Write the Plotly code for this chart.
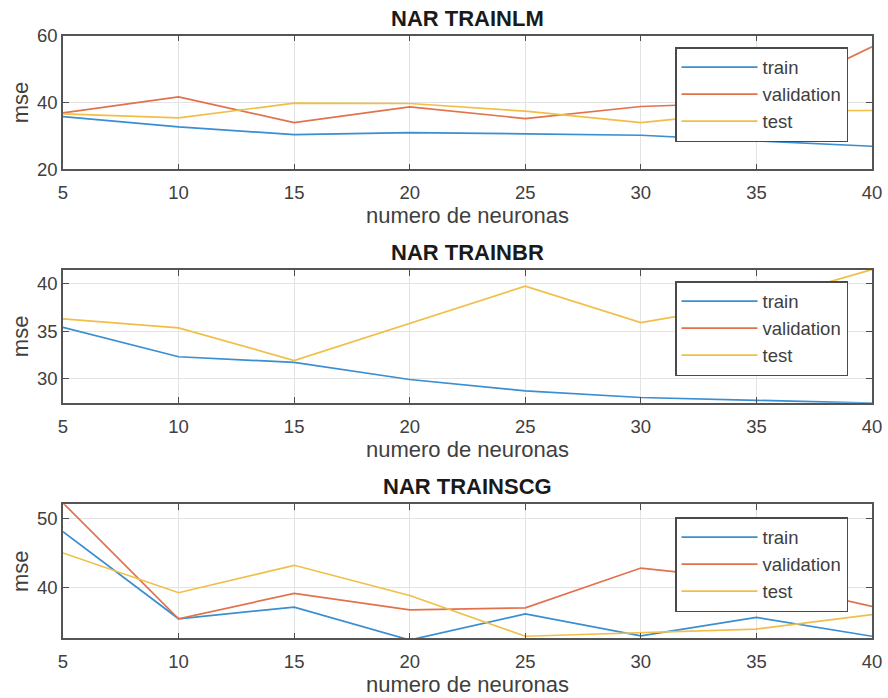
import plotly.graph_objects as go

neurons = [5, 10, 15, 20, 25, 30, 35, 40]

lm_train = [35.8, 32.7, 30.4, 31.0, 30.6, 30.2, 28.5, 26.9]
lm_validation = [36.9, 41.7, 34.0, 38.7, 35.2, 38.8, 40.0, 56.7]
lm_test = [36.6, 35.4, 39.8, 39.7, 37.4, 34.0, 37.5, 37.6]

br_train = [35.4, 32.3, 31.7, 29.9, 28.7, 28.0, 27.7, 27.4]
br_validation = [None, None, None, None, None, None, None, None]
br_test = [36.3, 35.35, 31.9, 35.8, 39.75, 35.9, 38.0, 41.5]

scg_train = [48.1, 35.4, 37.1, 32.3, 36.1, 32.9, 35.6, 32.85]
scg_validation = [52.3, 35.4, 39.1, 36.7, 37.0, 42.8, 41.0, 37.2]
scg_test = [45.0, 39.2, 43.2, 38.8, 32.85, 33.4, 33.9, 36.0]

titles = ["NAR TRAINLM", "NAR TRAINBR", "NAR TRAINSCG"]
series_names = ["train", "validation", "test"]
colors = ["#3a8ed2", "#e2724c", "#f0bf48"]

panels = [
    (lm_train, lm_validation, lm_test),
    (br_train, br_validation, br_test),
    (scg_train, scg_validation, scg_test),
]
y_ranges = [[20, 60], [27.45, 41.45], [32.55, 52.1]]
y_ticks = [[20, 40, 60], [30, 35, 40], [40, 50]]

W, H = 888, 698
# plot area pixel boxes (top, bottom)
boxes = [(35.7, 169.3), (270.0, 402.7), (504.3, 638.3)]
x_left, x_right = 63.0, 872.0
legend_tops = [47, 281, 517]

FONT = "Liberation Sans, Arial, sans-serif"
fig = go.Figure()
layout = dict(
    width=W, height=H,
    margin=dict(l=0, r=0, t=0, b=0),
    paper_bgcolor="white", plot_bgcolor="white",
    font=dict(family=FONT, color="#404040"),
    annotations=[],
)

for i, (data, title) in enumerate(zip(panels, titles)):
    n = "" if i == 0 else str(i + 1)
    leg = "legend" + n
    for j, (vals, name) in enumerate(zip(data, series_names)):
        fig.add_trace(go.Scatter(
            x=neurons, y=vals, mode="lines", name=name,
            line=dict(color=colors[j], width=1.7),
            xaxis="x" + n, yaxis="y" + n,
            legend=leg, legendgroup=f"p{i}_{name}",
        ))
    top, bot = boxes[i]
    ydom = [1 - bot / H, 1 - top / H]
    layout["xaxis" + n] = dict(
        domain=[x_left / W, x_right / W], anchor="y" + n,
        range=[5, 40], tickvals=neurons, ticks="inside", ticklen=6,
        tickcolor="#4d4d4d",
        showline=True, linecolor="#555555", linewidth=1.5, mirror="allticks",
        showgrid=True, gridcolor="#e3e3e3", gridwidth=1, zeroline=False,
        tickfont=dict(size=18.5, color="#404040"),
        title=dict(text="numero de neuronas", font=dict(size=22, color="#404040"), standoff=5),
        automargin=False, ticklabelstandoff=6,
    )
    layout["yaxis" + n] = dict(
        domain=ydom, anchor="x" + n,
        range=y_ranges[i], tickvals=y_ticks[i], ticks="inside", ticklen=6,
        tickcolor="#4d4d4d",
        showline=True, linecolor="#555555", linewidth=1.5, mirror="allticks",
        showgrid=True, gridcolor="#e3e3e3", gridwidth=1, zeroline=False,
        tickfont=dict(size=18.5, color="#404040"),
        title=dict(text="mse", font=dict(size=22, color="#404040"), standoff=2),
        automargin=False, ticklabelstandoff=0,
    )
    layout[leg] = dict(
        x=675 / W, xanchor="left", y=1 - legend_tops[i] / H, yanchor="top",
        xref="paper", yref="paper",
        bgcolor="white", bordercolor="#4a4a4a", borderwidth=1.5,
        font=dict(size=18.5, color="#404040", family=FONT),
        itemwidth=76, traceorder="grouped", tracegroupgap=0,
        itemclick=False, itemdoubleclick=False,
    )
    layout["annotations"].append(dict(
        text="<b>" + title + "</b>", x=(x_left + x_right) / 2 / W, xref="paper",
        y=1 - (top - 17.5) / H, yref="paper", xanchor="center", yanchor="middle",
        showarrow=False, font=dict(size=22, color="#1a1a1a", family=FONT),
    ))

fig.update_layout(**layout)
fig.write_html("out.html")
